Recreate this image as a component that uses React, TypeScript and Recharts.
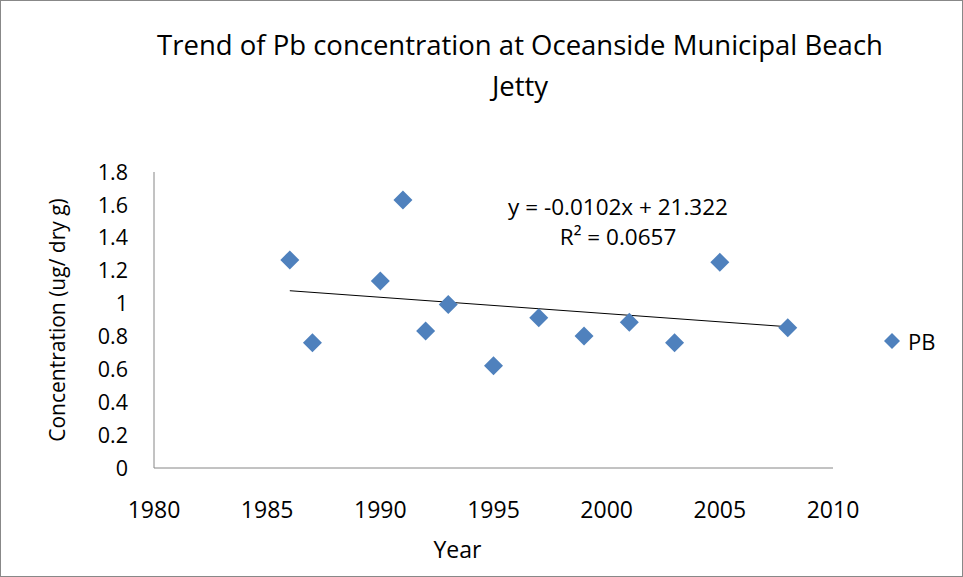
import React from 'react';
import { ScatterChart, Scatter, XAxis, YAxis, Legend } from 'recharts';

// values
const years = [1986, 1987, 1990, 1991, 1992, 1993, 1995, 1997, 1999, 2001, 2003, 2005, 2008];
const pbValues = [1.265, 0.762, 1.137, 1.63, 0.833, 0.995, 0.622, 0.914, 0.803, 0.886, 0.762, 1.251, 0.853];
const trendYears = [1986, 2008];
const trendValues = [1.078, 0.859];
const xTicks = [1980, 1985, 1990, 1995, 2000, 2005, 2010];
const yTicks = [0, 0.2, 0.4, 0.6, 0.8, 1, 1.2, 1.4, 1.6, 1.8];

const pbData = years.map((year, i) => ({ year, value: pbValues[i] }));
const trendData = trendYears.map((year, i) => ({ year, value: trendValues[i] }));

const BLUE = '#4F81BD';
const AXIS = '#868686';
const FONT = '"Open Sans", Lato, sans-serif';
const LEGEND_W = 70;

const Diamond = (props: any) => {
  const { cx, cy } = props;
  const r = 9.5;
  return (
    <polygon
      points={`${cx},${cy - r} ${cx + r},${cy} ${cx},${cy + r} ${cx - r},${cy}`}
      fill={BLUE}
    />
  );
};

const renderLegend = () => (
  <div style={{ display: 'flex', alignItems: 'center', fontFamily: FONT, fontSize: 22, lineHeight: '26px', color: '#000' }}>
    <svg width={18} height={18} style={{ marginRight: 7 }}>
      <polygon points="9,1 17,9 9,17 1,9" fill={BLUE} />
    </svg>
    <span>PB</span>
  </div>
);

export default function App() {
  return (
    <div
      style={{
        position: 'absolute',
        left: 0,
        top: 0,
        width: 963,
        height: 577,
        boxSizing: 'border-box',
        border: '1px solid #888',
        background: '#fff',
        fontFamily: FONT,
      }}
    >
      <div
        style={{
          position: 'absolute',
          left: 0,
          width: 1038,
          top: 23,
          textAlign: 'center',
          fontSize: 27.5,
          lineHeight: '41px',
          color: '#000',
        }}
      >
        Trend of Pb concentration at Oceanside Municipal Beach
        <br />
        Jetty
      </div>
      <div
        style={{
          position: 'absolute',
          left: 467,
          width: 300,
          top: 191,
          textAlign: 'center',
          fontSize: 22.5,
          lineHeight: '30px',
          color: '#000',
        }}
      >
        y = -0.0102x + 21.322
        <br />
        R² = 0.0657
      </div>
      <ScatterChart
        width={961}
        height={575}
        margin={{ top: 171, right: 129 - LEGEND_W, bottom: 107, left: 152 }}
        style={{ position: 'absolute', left: 0, top: 0 }}
      >
        <XAxis
          type="number"
          dataKey="year"
          domain={[1980, 2010]}
          ticks={xTicks}
          height={1}
          tickLine={false}
          tickSize={0}
          tickMargin={34}
          axisLine={{ stroke: AXIS }}
          tick={{ fill: '#000', fontSize: 23, fontFamily: FONT }}
          label={{ value: 'Year', position: 'bottom', offset: 73, dx: -36, fill: '#000', fontSize: 23, fontFamily: FONT }}
        />
        <YAxis
          type="number"
          dataKey="value"
          domain={[0, 1.8]}
          ticks={yTicks}
          width={1}
          tickLine={false}
          tickSize={0}
          tickMargin={26}
          axisLine={{ stroke: AXIS }}
          tick={{ fill: '#000', fontSize: 21.5, fontFamily: FONT }}
          label={{
            value: 'Concentration (ug/ dry g)',
            angle: -90,
            position: 'left',
            offset: 95,
            fill: '#000',
            fontSize: 21,
            fontFamily: FONT,
            textAnchor: 'middle',
          }}
        />
        <Scatter
          name="Trend"
          data={trendData}
          line={{ stroke: '#000', strokeWidth: 1 }}
          lineType="joint"
          shape={() => <g />}
          legendType="none"
          isAnimationActive={false}
        />
        <Scatter name="PB" data={pbData} fill={BLUE} shape={Diamond} isAnimationActive={false} />
        <Legend
          layout="vertical"
          align="right"
          verticalAlign="middle"
          content={renderLegend}
          wrapperStyle={{ left: 882, top: 327, width: LEGEND_W, right: 'auto' }}
        />
      </ScatterChart>
    </div>
  );
}
